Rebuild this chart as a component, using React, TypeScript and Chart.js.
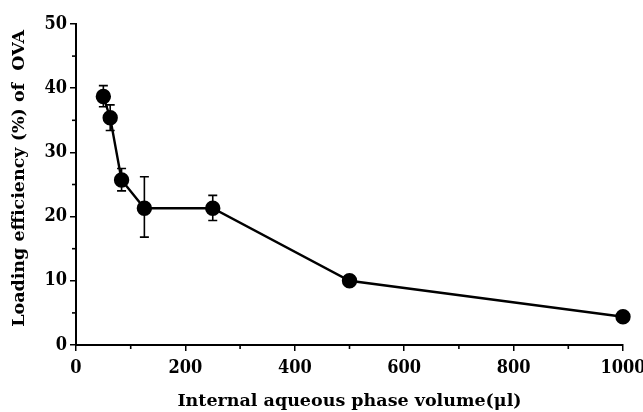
import React, { useEffect, useRef } from "react";
import { Chart, registerables } from "chart.js";

Chart.register(...registerables);

const volumes = [50, 62.5, 83.3, 125, 250, 500, 1000];
const efficiency = [38.7, 35.4, 25.7, 21.3, 21.3, 10.0, 4.4];
const errUpper = [40.4, 37.4, 27.5, 26.2, 23.3, null, null];
const errLower = [37.1, 33.4, 24.0, 16.8, 19.4, null, null];
const xMajorTicks = [0, 200, 400, 600, 800, 1000];
const xMinorTicks = [100, 300, 500, 700, 900];
const yMajorTicks = [0, 10, 20, 30, 40, 50];
const yMinorTicks = [5, 15, 25, 35, 45];

const TICK_FONT = "'DejaVu Serif Condensed', 'DejaVu Serif', serif";
const TITLE_FONT = "'DejaVu Serif', serif";

const extrasPlugin = {
  id: "extras",
  afterDatasetsDraw(chart: any) {
    const ctx = chart.ctx;
    const xs = chart.scales.x;
    const ys = chart.scales.y;
    ctx.save();
    ctx.strokeStyle = "#000";
    ctx.lineWidth = 1.6;
    volumes.forEach((v, i) => {
      const up = errUpper[i];
      const lo = errLower[i];
      if (up == null || lo == null) return;
      const px = xs.getPixelForValue(v);
      const pu = ys.getPixelForValue(up);
      const pl = ys.getPixelForValue(lo);
      ctx.beginPath();
      ctx.moveTo(px, pu);
      ctx.lineTo(px, pl);
      ctx.moveTo(px - 4.5, pu);
      ctx.lineTo(px + 4.5, pu);
      ctx.moveTo(px - 4.5, pl);
      ctx.lineTo(px + 4.5, pl);
      ctx.stroke();
    });
    const bottom = ys.getPixelForValue(0);
    const left = xs.getPixelForValue(0);
    xMinorTicks.forEach((v) => {
      const px = xs.getPixelForValue(v);
      ctx.beginPath();
      ctx.moveTo(px, bottom);
      ctx.lineTo(px, bottom + 4);
      ctx.stroke();
    });
    yMinorTicks.forEach((v) => {
      const py = ys.getPixelForValue(v);
      ctx.beginPath();
      ctx.moveTo(left, py);
      ctx.lineTo(left - 4, py);
      ctx.stroke();
    });
    ctx.restore();
  },
};

export default function App() {
  const ref = useRef<HTMLCanvasElement>(null);
  useEffect(() => {
    if (!ref.current) return;
    const chart = new Chart(ref.current, {
      type: "line",
      data: {
        datasets: [
          {
            data: volumes.map((v, i) => ({ x: v, y: efficiency[i] })),
            borderColor: "#000",
            backgroundColor: "#000",
            borderWidth: 2.4,
            pointRadius: 6.5,
            pointBackgroundColor: "#000",
            pointBorderColor: "#000",
            tension: 0,
            clip: false,
          },
        ],
      },
      options: {
        animation: false,
        responsive: false,
        layout: { autoPadding: false, padding: { top: 24, right: 0, left: 0, bottom: 0 } },
        plugins: { legend: { display: false }, tooltip: { enabled: false } },
        scales: {
          x: {
            type: "linear",
            min: 0,
            max: 1000,
            afterBuildTicks: (s: any) => {
              s.ticks = xMajorTicks.map((v) => ({ value: v }));
            },
            afterFit: (s: any) => {
              s.height = 67;
              s.paddingRight = 20;
              s.paddingLeft = 0;
            },
            grid: { drawOnChartArea: false, drawTicks: true, tickLength: 6, color: "#000", lineWidth: 1.5 },
            border: { display: true, color: "#000", width: 2 },
            ticks: {
              color: "#000",
              font: { family: TICK_FONT, weight: "bold", size: 18 },
              maxRotation: 0,
              padding: 7,
              callback: (v: any) => String(v),
            },
            title: {
              display: true,
              text: "Internal aqueous phase volume(μl)",
              color: "#000",
              font: { family: TITLE_FONT, weight: "bold", size: 17.5 },
              padding: { top: 0, bottom: 0 },
            },
          },
          y: {
            type: "linear",
            min: 0,
            max: 50,
            afterBuildTicks: (s: any) => {
              s.ticks = yMajorTicks.map((v) => ({ value: v }));
            },
            afterFit: (s: any) => {
              s.width = 76;
            },
            grid: { drawOnChartArea: false, drawTicks: true, tickLength: 6, color: "#000", lineWidth: 1.5 },
            border: { display: true, color: "#000", width: 2 },
            ticks: {
              color: "#000",
              font: { family: TICK_FONT, weight: "bold", size: 18 },
              padding: 3,
              callback: (v: any) => String(v),
            },
            title: {
              display: true,
              text: "  Loading efficiency (%) of  OVA",
              color: "#000",
              font: { family: TITLE_FONT, weight: "bold", size: 17.5 },
              padding: { top: 9, bottom: 0 },
            },
          },
        },
      },
      plugins: [extrasPlugin],
    });
    return () => chart.destroy();
  }, []);
  return (
    <div style={{ position: "fixed", left: 0, top: 0, width: 643, height: 412, background: "#fff" }}>
      <canvas ref={ref} width={643} height={412} style={{ width: 643, height: 412 }} />
    </div>
  );
}
